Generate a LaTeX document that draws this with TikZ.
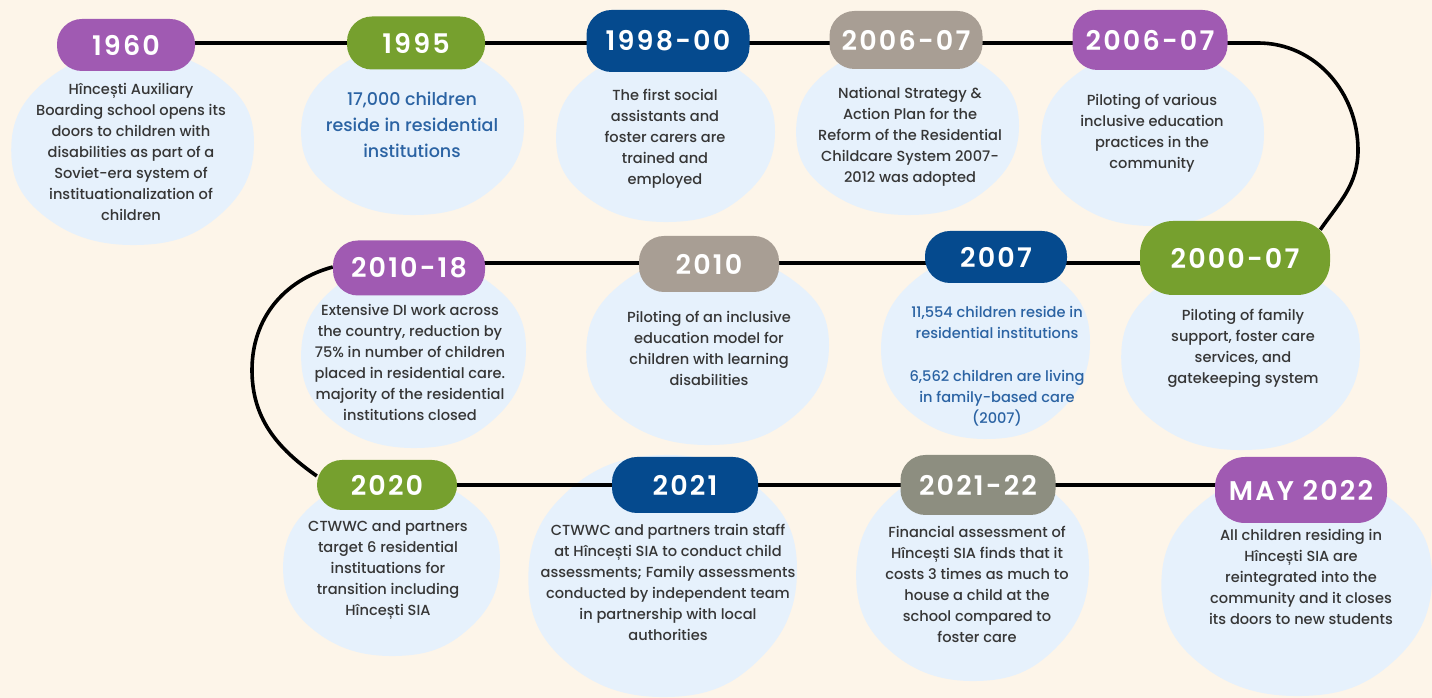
\documentclass[tikz,border=0pt]{standalone}
\usepackage{fontspec}
\setmainfont{Poppins Medium}
\newfontfamily\yearfont[LetterSpace=8]{Poppins SemiBold}
\usepackage{xcolor}
\usepackage{tikz}
\usetikzlibrary{positioning}
\definecolor{cream}{HTML}{FDF5E9}
\definecolor{bluebg}{HTML}{E6F1FC}
\definecolor{plum}{HTML}{A05AB2}
\definecolor{leaf}{HTML}{76A02E}
\definecolor{navy}{HTML}{054A8E}
\definecolor{stone}{HTML}{A89E94}
\definecolor{olivegrey}{HTML}{8D8E80}
\definecolor{inkgrey}{HTML}{363636}
\definecolor{textblue}{HTML}{2B63A3}
\pgfdeclarelayer{blobs}
\pgfdeclarelayer{lines}
\pgfsetlayers{blobs,lines,main}
\newcommand{\blob}[4]{%
  \fill[bluebg] plot[smooth cycle,tension=0.75] coordinates {
    ({#1+1.00*#3},{#2+0.05*#4}) ({#1+0.72*#3},{#2+0.72*#4})
    ({#1+0.02*#3},{#2+1.00*#4}) ({#1-0.70*#3},{#2+0.70*#4})
    ({#1-0.99*#3},{#2-0.02*#4}) ({#1-0.70*#3},{#2-0.72*#4})
    ({#1+0.04*#3},{#2-1.00*#4}) ({#1+0.72*#3},{#2-0.69*#4})};}

\begin{document}
\begin{tikzpicture}[x=1pt,y=1pt,
  pill/.style={rectangle,rounded corners=25pt,text=white,inner sep=0pt,
    font=\yearfont\fontsize{27}{27}\selectfont},
  note/.style={align=center,text=inkgrey,inner sep=0pt,
    font=\fontsize{14.6}{21}\selectfont},
  bluenote/.style={note,text=textblue},
  tl/.style={line width=3.6pt,black}]
  \useasboundingbox (0,0) rectangle (1432,698);

  \node[pill,fill=plum,minimum width=138,minimum height=52] (p1) at (126,653) {1960};
  \node[pill,fill=leaf,minimum width=138,minimum height=53] (p2) at (416,655) {1995};
  \node[pill,fill=navy,minimum width=163,minimum height=62] (p3) at (668,657) {1998-00};
  \node[pill,fill=stone,minimum width=153,minimum height=58] (p4) at (906,658) {2006-07};
  \node[pill,fill=plum,minimum width=155,minimum height=60] (p5) at (1150,658) {2006-07};
  \node[pill,fill=plum,minimum width=152,minimum height=55] (p6) at (409,430) {2010-18};
  \node[pill,fill=stone,minimum width=140,minimum height=56] (p7) at (709,434) {2010};
  \node[pill,fill=navy,minimum width=142,minimum height=52] (p8) at (996,441) {2007};
  \node[pill,fill=leaf,minimum width=190,minimum height=74,rounded corners=33pt] (p9) at (1235,440) {2000-07};
  \node[pill,fill=leaf,minimum width=140,minimum height=50] (p10) at (387,213) {2020};
  \node[pill,fill=navy,minimum width=146,minimum height=56] (p11) at (685,213) {2021};
  \node[pill,fill=olivegrey,minimum width=155,minimum height=60] (p12) at (978,213) {2021-22};
  \node[pill,fill=plum,minimum width=172,minimum height=66,rounded corners=30pt] (p13) at (1301,208) {MAY 2022};

  \node[note] (t1) at (131,546) {Hîncești Auxiliary\\Boarding school opens its\\doors to children with\\disabilities as part of a\\Soviet-era system of\\instituationalization of\\children};
  \node[bluenote,font=\fontsize{17.5}{26}\selectfont] (t2) at (412,573) {17,000 children\\reside in residential\\institutions};
  \node[note] (t3) at (665,559) {The first social\\assistants and\\foster carers are\\trained and\\employed};
  \node[note] (t4) at (910,561) {National Strategy \&\\Action Plan for the\\Reform of the Residential\\Childcare System 2007-\\2012 was adopted};
  \node[note] (t5) at (1152,565) {Piloting of various\\inclusive education\\practices in the\\community};
  \node[note] (t6) at (410,336) {Extensive DI work across\\the country, reduction by\\75\% in number of children\\placed in residential care.\\majority of the residential\\institutions closed};
  \node[note] (t7) at (709,350) {Piloting of an inclusive\\education model for\\children with learning\\disabilities};
  \node[bluenote] (t8) at (997,332) {11,554 children reside in\\residential institutions\\[22pt]6,562 children are living\\in family-based care\\(2007)};
  \node[note] (t9) at (1243,350) {Piloting of family\\support, foster care\\services, and\\gatekeeping system};
  \node[note] (t10) at (388,128) {CTWWC and partners\\target 6 residential\\instituations for\\transition including\\Hîncești SIA};
  \node[note] (t11) at (668,116) {CTWWC and partners train staff\\at Hîncești SIA to conduct child\\assessments; Family assessments\\conducted by independent team\\in partnership with local\\authorities};
  \node[note] (t12) at (977,114) {Financial assessment of\\Hîncești SIA finds that it\\costs 3 times as much to\\house a child at the\\school compared to\\foster care};
  \node[note] (t13) at (1301,121) {All children residing in\\Hîncești SIA are\\reintegrated into the\\community and it closes\\its doors to new students};

  \coordinate (r1) at (0,655);
  \coordinate (r2) at (0,435);
  \coordinate (r3) at (0,213);
  \coordinate (bendR) at (1258,655);
  \coordinate (farR) at (1358,548);
  \coordinate (farL) at (252,328);

  \begin{pgfonlayer}{blobs}
    \fill[cream] (0,0) rectangle (1432,698);
    \blob{132}{550}{122}{97}
    \blob{412}{568}{112}{85}
    \blob{665}{562}{110}{86}
    \blob{907}{568}{112}{85}
    \blob{1152}{560}{112}{88}
    \blob{413}{344}{113}{94}
    \blob{707}{348}{122}{95}
    \blob{985}{351}{105}{92}
    \blob{1240}{343}{120}{95}
    \blob{391}{132}{109}{90}
    \blob{662}{122}{135}{121}
    \blob{972}{125}{117}{108}
    \blob{1296}{115}{136}{113}
  \end{pgfonlayer}

  \begin{pgfonlayer}{lines}
    \draw[tl] (p1 |- r1) -- (p5 |- r1) -- (bendR)
      to[out=0,in=90] (farR)
      to[out=-90,in=55] ([shift={(-10,-9)}]p9.north east);
    \draw[tl] (p9 |- r2) -- (p6 |- r2);
    \draw[tl] ([yshift=1]p6.west) to[out=195,in=90] (farL)
      to[out=-90,in=145] ([yshift=9]p10.west);
    \draw[tl] (p10 |- r3) -- (p13 |- r3);
  \end{pgfonlayer}

\end{tikzpicture}
\end{document}
